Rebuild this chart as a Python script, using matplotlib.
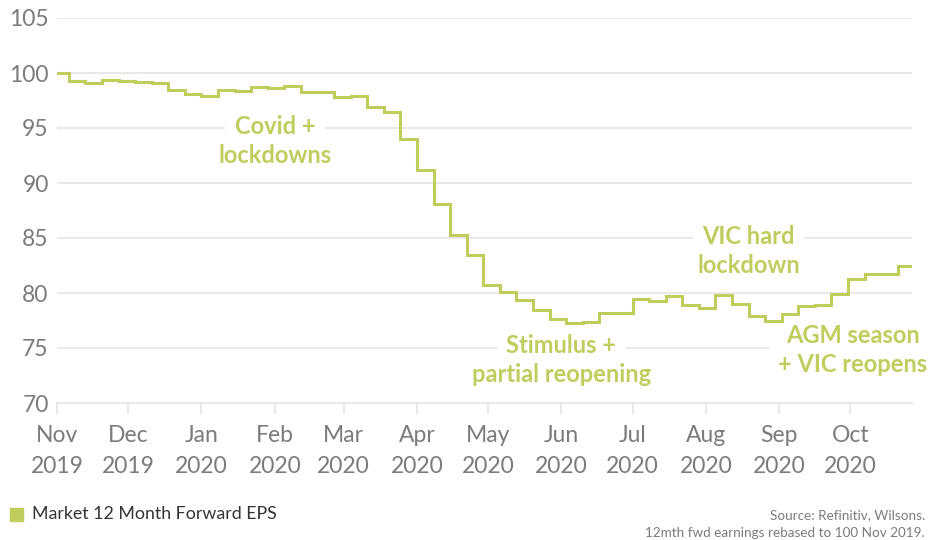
import matplotlib
matplotlib.use("Agg")
import matplotlib.pyplot as plt
import matplotlib.dates as mdates
import numpy as np
import pandas as pd

# ---- data ----
week_starts = pd.date_range("2019-10-30", periods=53, freq="7D")  # step edges
eps_values = [100.0, 99.25, 99.05, 99.35, 99.25, 99.15, 99.1, 98.45, 98.1, 97.95,
              98.5, 98.4, 98.75, 98.65, 98.85, 98.3, 98.3, 97.85, 97.95, 96.9,
              96.45, 94.0, 91.2, 88.1, 85.3, 83.45, 80.7, 80.05, 79.35, 78.5,
              77.6, 77.3, 77.4, 78.15, 78.2, 79.45, 79.3, 79.7, 78.95, 78.6,
              79.85, 79.0, 77.9, 77.5, 78.1, 78.8, 78.9, 79.9, 81.25, 81.7,
              81.75, 82.5]
x_start, x_end = "2019-11-01", "2020-10-27"
month_ticks = pd.date_range("2019-11-01", "2020-10-01", freq="MS")
month_labels = [f"{d.strftime('%b')}\n{d.year}" for d in month_ticks]
y_ticks = [70, 75, 80, 85, 90, 95, 100, 105]

annotations = [
    (["Covid +", "lockdowns"], "2020-02-01", 94.45),
    (["Stimulus +", "partial reopening"], "2020-06-01", 74.55),
    (["VIC hard", "lockdown"], "2020-08-19", 84.5),
    (["AGM season", "+ VIC reopens"], "2020-10-02", 75.45),
]

series_name = "Market 12 Month Forward EPS"
source_text = "Source: Refinitiv, Wilsons.\n12mth fwd earnings rebased to 100 Nov 2019."

GREEN = "#c0cc5c"
GRID = "#e9e9e9"
TICK = "#7d7a7a"

fig = plt.figure(figsize=(9.36, 5.4), dpi=100)
ax = fig.add_axes([57/936, 1-403/540, (912-57)/936, (403-18)/540])

edges = mdates.date2num(week_starts.to_pydatetime())
ax.stairs(eps_values, edges, color=GREEN, linewidth=2.2, baseline=None, zorder=4)

ax.set_xlim(mdates.datestr2num(x_start), mdates.datestr2num(x_end))
ax.set_ylim(70, 105)
ax.set_yticks(y_ticks)
ax.yaxis.grid(True, color=GRID, linewidth=1.5, zorder=0)
ax.set_axisbelow(True)
for s in ["top", "right", "left"]:
    ax.spines[s].set_visible(False)
ax.spines["bottom"].set_color(GRID)
ax.spines["bottom"].set_linewidth(1.5)

ax.set_xticks(mdates.date2num(month_ticks.to_pydatetime()))
ax.set_xticklabels(month_labels, linespacing=1.55)
ax.tick_params(axis="x", length=8, width=1.5, color=GRID, labelcolor=TICK,
               labelsize=16.5, pad=8)
ax.tick_params(axis="y", length=0, labelcolor=TICK, labelsize=16.5, pad=6)
for lab in ax.get_xticklabels() + ax.get_yticklabels():
    lab.set_fontfamily("Lato")

LINE_STEP = 20.9  # points between annotation lines
for lines, d, y in annotations:
    xd = mdates.datestr2num(d)
    for i, line in enumerate(lines):
        common = dict(xy=(xd, y), xytext=(0, -i * LINE_STEP), textcoords="offset points",
                      ha="center", va="baseline", fontsize=17, fontweight="bold",
                      family="Lato", annotation_clip=False)
        # white backing box (knocks out gridlines)
        ax.annotate(line, color="white", zorder=2,
                    bbox=dict(boxstyle="square,pad=0.4", fc="white", ec="none"),
                    **common)
        ax.annotate(line, color=GREEN, zorder=3, **common)

# legend
fig.patches.append(plt.Rectangle((10/936, 1-521/540), 13/936, 13/540,
                                 transform=fig.transFigure, color=GREEN))
fig.text(32/936, 1-514/540, series_name, va="center", ha="left",
         fontsize=12.8, color="#333333", family="Lato")
fig.text(925/936, 1-524/540, source_text, va="center", ha="right",
         fontsize=9.7, color="#7d7a7a", family="Lato", linespacing=1.6)

fig.savefig("out.png", dpi=100)
